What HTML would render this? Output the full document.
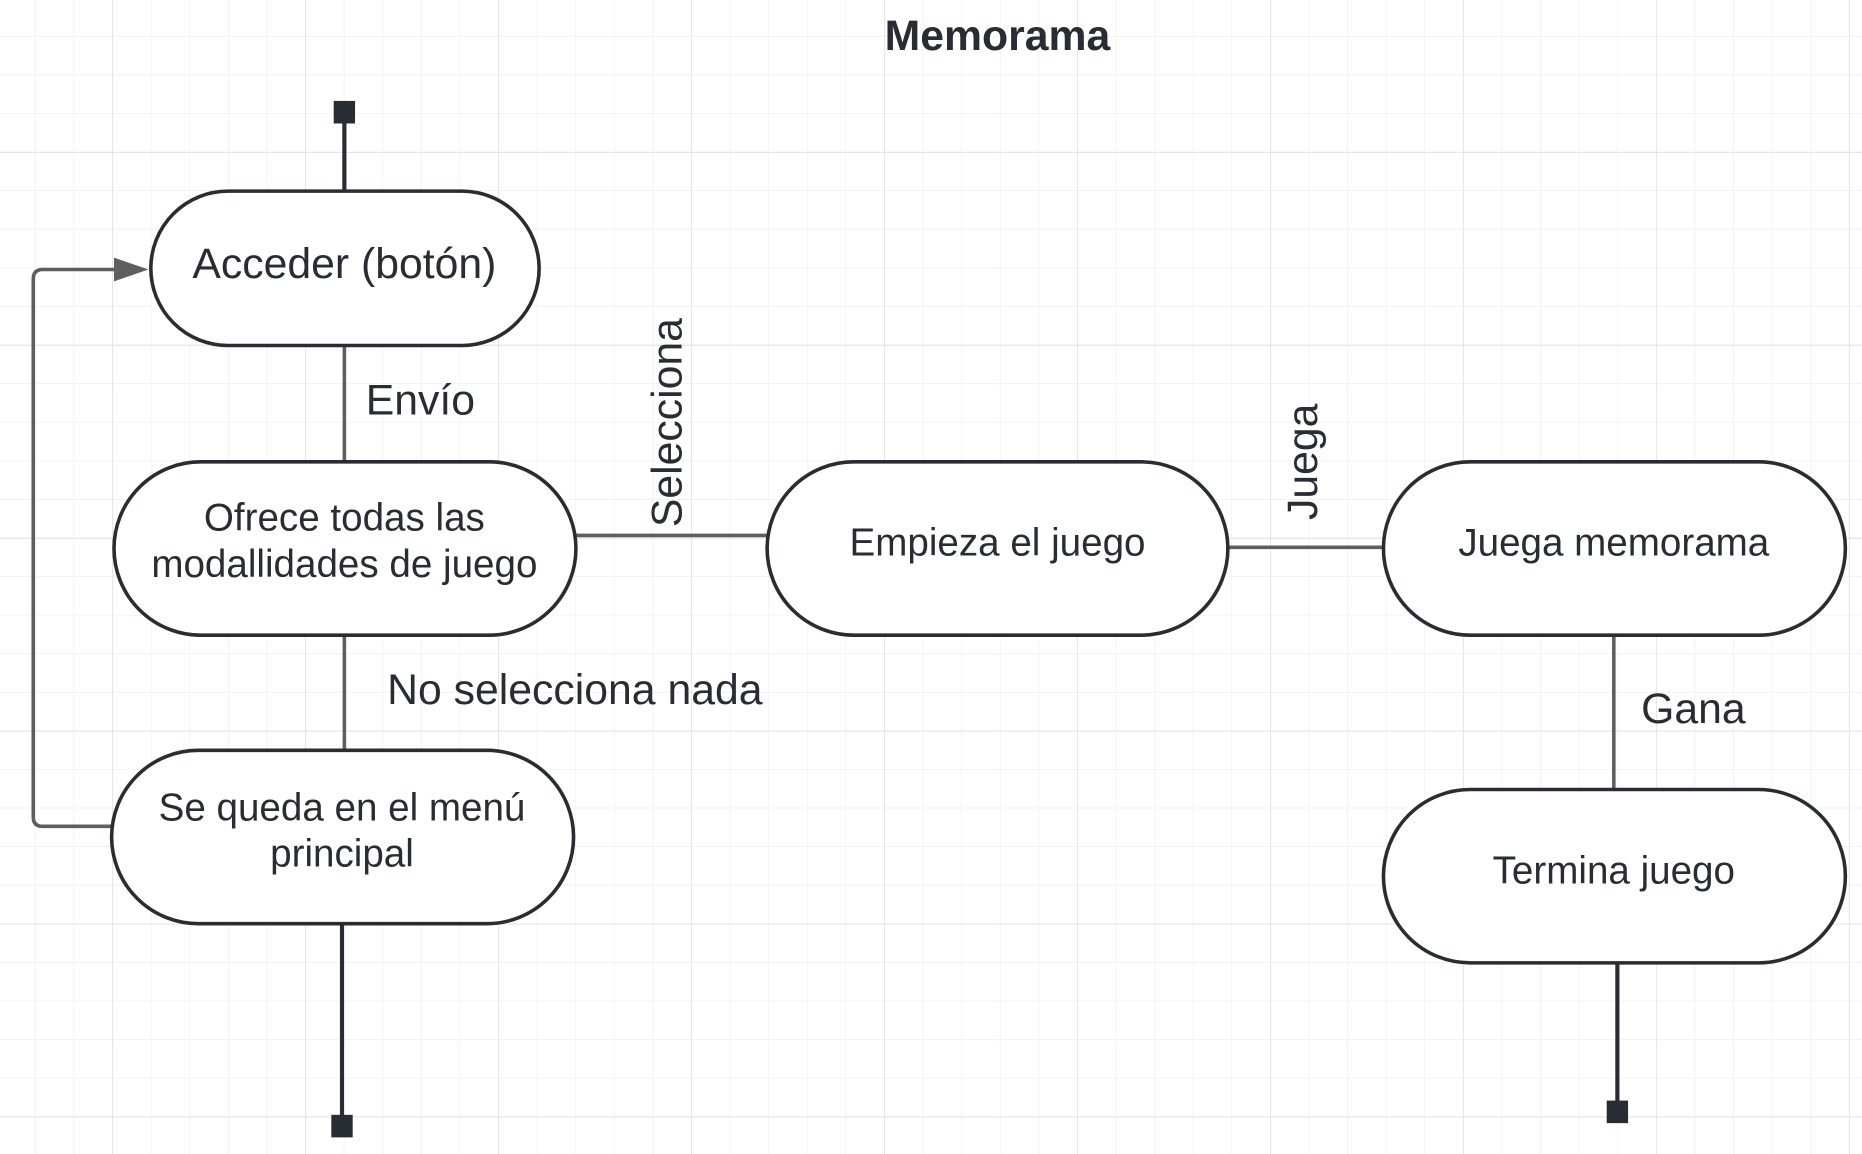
<!DOCTYPE html>
<html><head><meta charset="utf-8"><style>
html,body{margin:0;padding:0;background:#fff;}
svg{display:block;}
text{font-family:"Liberation Sans",sans-serif;fill:#282c33;}
</style></head><body>
<svg width="1862" height="1154" viewBox="0 0 1568 972" preserveAspectRatio="none" xmlns="http://www.w3.org/2000/svg">
<defs>
<pattern id="g" x="29.5" y="30.3" width="32.5" height="32.5" patternUnits="userSpaceOnUse">
<path d="M0 0H32.5M0 0V32.5" stroke="#ececec" stroke-width="1" fill="none"/>
</pattern>
<pattern id="G" x="94.5" y="128" width="162.5" height="162.5" patternUnits="userSpaceOnUse">
<path d="M0 0H162.5M0 0V162.5" stroke="#dedede" stroke-width="1.2" fill="none"/>
</pattern>
</defs>
<rect width="1568" height="972" fill="#fff"/>
<rect width="1568" height="972" fill="url(#g)"/>
<rect width="1568" height="972" fill="url(#G)"/>

<text x="840" y="42" font-size="36" font-weight="bold" text-anchor="middle">Memorama</text>

<g stroke="#5e5e5e" stroke-width="3" fill="none">
<line x1="290" y1="291" x2="290" y2="389"/>
<line x1="290" y1="535" x2="290" y2="632"/>
<line x1="485" y1="451" x2="646" y2="451"/>
<line x1="1034" y1="461" x2="1165" y2="461"/>
<line x1="1359" y1="535" x2="1359" y2="665"/>
<path d="M94 696H36Q28 696 28 688V235Q28 227 36 227H100"/>
</g>
<polygon points="96,217 125,227 96,237" fill="#5e5e5e"/>
<g stroke="#282c33" stroke-width="3.5" fill="none">
<line x1="290" y1="100" x2="290" y2="161"/>
<line x1="288" y1="778" x2="288" y2="945"/>
<line x1="1362" y1="811" x2="1362" y2="933"/>
</g>
<g fill="#282c33">
<rect x="281" y="85" width="18" height="19"/>
<rect x="279" y="939" width="18" height="19"/>
<rect x="1353" y="927" width="18" height="19"/>
</g>

<g fill="#fff" stroke="#282c33" stroke-width="3">
<rect x="127" y="161" width="327" height="130" rx="65"/>
<rect x="96" y="389" width="389" height="146" rx="73"/>
<rect x="94" y="632" width="389" height="146" rx="73"/>
<rect x="646" y="389" width="388" height="146" rx="73"/>
<rect x="1165" y="389" width="389" height="146" rx="73"/>
<rect x="1165" y="665" width="389" height="146" rx="73"/>
</g>
<g text-anchor="middle" font-size="32.5">
<text x="290" y="234" font-size="36">Acceder (botón)</text>
<text x="290" y="447">Ofrece todas las</text>
<text x="290" y="486">modallidades de juego</text>
<text x="288" y="691">Se queda en el menú</text>
<text x="288" y="730">principal</text>
<text x="840" y="468">Empieza el juego</text>
<text x="1359" y="468">Juega memorama</text>
<text x="1359" y="744">Termina juego</text>
</g>
<g font-size="36">
<text x="308" y="349">Envío</text>
<text x="326" y="593">No selecciona nada</text>
<text x="1382" y="609">Gana</text>
<text transform="translate(574,356) rotate(-90)" text-anchor="middle">Selecciona</text>
<text transform="translate(1109,389) rotate(-90)" text-anchor="middle">Juega</text>
</g>
</svg>
</body></html>
